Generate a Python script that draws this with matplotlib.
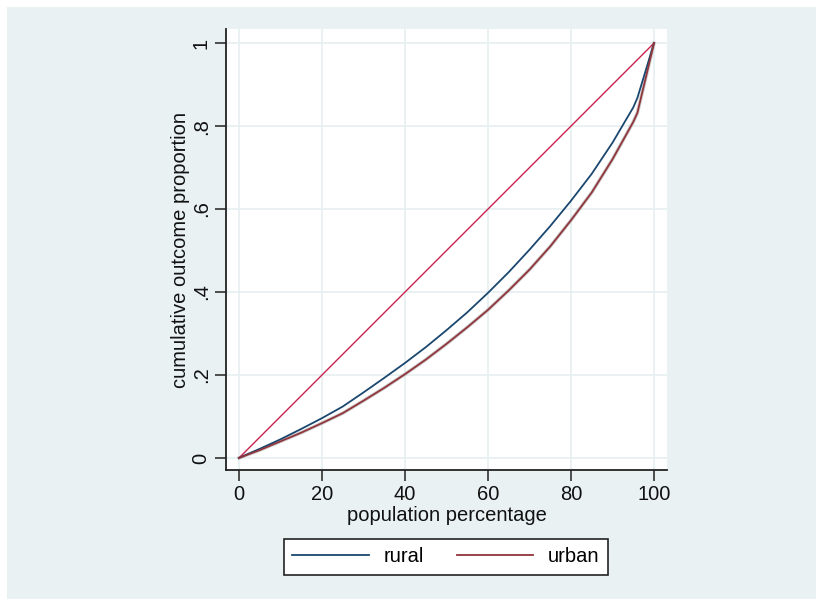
import matplotlib
matplotlib.use("Agg")
import matplotlib.pyplot as plt
from matplotlib.patches import Rectangle

plt.rcParams['font.family'] = ['Liberation Sans', 'DejaVu Sans']

pop_pct = [0, 5, 10, 15, 20, 25, 30, 35, 40, 45, 50, 55, 60, 65, 70, 75, 80, 85, 90, 95, 96, 100]
rural = [0, 0.022, 0.045, 0.07, 0.096, 0.124, 0.158, 0.193, 0.229, 0.267, 0.308, 0.351,
         0.398, 0.448, 0.502, 0.559, 0.62, 0.685, 0.76, 0.845, 0.868, 1.0]
urban = [0, 0.019, 0.04, 0.061, 0.084, 0.108, 0.138, 0.169, 0.202, 0.237, 0.275, 0.315,
         0.357, 0.404, 0.454, 0.51, 0.573, 0.64, 0.72, 0.81, 0.832, 1.0]
equality_x = [0, 100]
equality_y = [0, 1]
x_ticks = [0, 20, 40, 60, 80, 100]
x_labels = ["0", "20", "40", "60", "80", "100"]
y_ticks = [0, 0.2, 0.4, 0.6, 0.8, 1.0]
y_labels = ["0", ".2", ".4", ".6", ".8", "1"]

W, H = 816, 599
bg = "#E9F1F3"
fs = 14.5
fig = plt.figure(figsize=(W / 100, H / 100), dpi=100, facecolor="white")
bgrect = Rectangle((7 / W, 0), 1 - 7 / W, 1 - 7 / H, transform=fig.transFigure,
                   facecolor=bg, edgecolor="none", zorder=-10)
fig.add_artist(bgrect)

left, right, top, bottom = 226, 667, 29, 470
ax = fig.add_axes([left / W, 1 - bottom / H, (right - left) / W, (bottom - top) / H])
ax.set_zorder(1)
ax.set_facecolor("white")

ax.plot(equality_x, equality_y, color="#C8224E", lw=1.0, zorder=3)
ax.plot(pop_pct, urban, color="#B0B0B0", lw=2.6, alpha=0.6, zorder=2)
ax.plot(pop_pct, rural, color="#1A476F", lw=1.3, zorder=4, label="rural")
ax.plot(pop_pct, urban, color="#90353B", lw=1.3, zorder=4, label="urban")

ax.set_xlim(-3.13, 103.13)
ax.set_ylim(-0.029, 1.034)
ax.set_xticks(x_ticks)
ax.set_xticklabels(x_labels)
ax.set_yticks(y_ticks)
ax.set_yticklabels(y_labels, rotation=90, va="center")
ax.grid(True, color="#E6EFF1", lw=1.2)
ax.set_axisbelow(True)
for s in ["top", "right"]:
    ax.spines[s].set_visible(False)
for s in ["left", "bottom"]:
    ax.spines[s].set_linewidth(1.3)
    ax.spines[s].set_color("#222222")
ax.tick_params(axis="both", length=8, width=1.1, color="#222222", labelsize=fs, pad=3,
               labelcolor="#111111")
ax.set_xlabel("population percentage", fontsize=fs, labelpad=1, color="#111111")
ax.set_ylabel("cumulative outcome proportion", fontsize=fs, labelpad=1, color="#111111")

leg = fig.legend(loc="center", bbox_to_anchor=(446 / W, 1 - 557 / H), ncol=2,
                 fontsize=fs, frameon=True, fancybox=False, edgecolor="#222222",
                 facecolor="white", framealpha=1.0,
                 handlelength=3.8, columnspacing=1.6, handletextpad=0.75,
                 borderpad=0.42)
leg.get_frame().set_linewidth(1.2)
leg.set_zorder(5)

fig.savefig("out.png", dpi=100, facecolor="white")
